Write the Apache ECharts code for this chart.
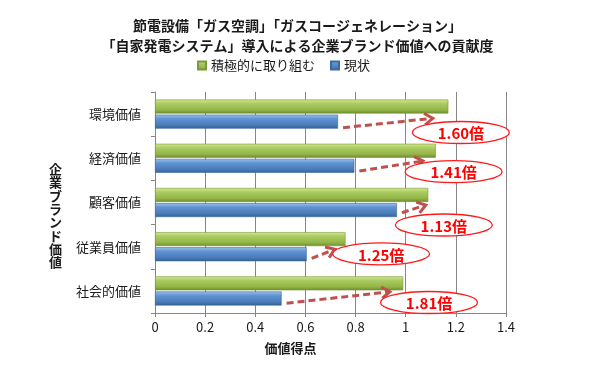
<!DOCTYPE html>
<html><head><meta charset="utf-8">
<script src="https://cdn.jsdelivr.net/npm/echarts@6/dist/echarts.min.js"></script>
<style>html,body{margin:0;padding:0;background:#fff}#c{width:595px;height:370px}</style>
</head><body><div id="c"></div>
<script>
// ---- data ----
const categories = ['環境価値', '経済価値', '顧客価値', '従業員価値', '社会的価値'];
const activeValues = [1.17, 1.12, 1.09, 0.76, 0.99];      // 積極的に取り組む
const currentValues = [0.73, 0.795, 0.965, 0.605, 0.505]; // 現状
const ratioLabels = ['1.60倍', '1.41倍', '1.13倍', '1.25倍', '1.81倍'];
const seriesNames = ['積極的に取り組む', '現状'];
const xMin = 0, xMax = 1.4, xStep = 0.2;

// ---- callout layout (axis-value x positions, pixel y offsets from category centre) ----
const calloutTipX = [1.108, 1.069, 1.080, 0.717, 0.937];
const calloutTipDy = [4.2, 2.7, 2.5, 2.6, 0.8];
const calloutStartDy = [13.6, 12.7, 10.2, 11.6, 12.4];
const calloutEllipseX = [1.220, 1.191, 1.152, 0.902, 1.093];
const calloutEllipseDy = [18.4, 13.4, 22.5, 7.1, 11.6];

const FONT = '"Noto Sans CJK JP", "Noto Sans", sans-serif';
const chart = echarts.init(document.getElementById('c'), null, {renderer: 'canvas'});

function grad(stops) {
  return new echarts.graphic.LinearGradient(0, 0, 0, 1, stops.map((c, i) => ({offset: c[0], color: c[1]})));
}
const greenFill = grad([[0, '#d3ea8c'], [0.3, '#aacb62'], [0.75, '#93b447'], [1, '#6b8a2c']]);
const blueFill = grad([[0, '#9cc2f0'], [0.3, '#5f93d2'], [0.75, '#4a7bb9'], [1, '#34608f']]);

const calloutData = categories.map((c, i) => [i, currentValues[i], activeValues[i]]);

function renderCallout(params, api) {
  const i = params.dataIndex;
  const cat = api.value(0);
  const startBase = api.coord([api.value(1), cat]);
  const tipBase = api.coord([calloutTipX[i], cat]);
  const ell = api.coord([calloutEllipseX[i], cat]);
  const sx = startBase[0] + 5, sy = startBase[1] + calloutStartDy[i];
  const tx = tipBase[0], ty = tipBase[1] + calloutTipDy[i];
  const ang = Math.atan2(ty - sy, tx - sx);
  const hl = 10, ha = 0.6;
  const h1 = [tx - hl * Math.cos(ang - ha), ty - hl * Math.sin(ang - ha)];
  const h2 = [tx - hl * Math.cos(ang + ha), ty - hl * Math.sin(ang + ha)];
  const col = '#c0504d';
  return {
    type: 'group',
    children: [
      {type: 'line', shape: {x1: sx, y1: sy, x2: tx - 2 * Math.cos(ang), y2: ty - 2 * Math.sin(ang)},
       style: {stroke: col, lineWidth: 3, lineDash: [7, 4]}},
      {type: 'polyline', shape: {points: [h1, [tx, ty], h2]},
       style: {stroke: col, lineWidth: 3, fill: null}},
      {type: 'ellipse', shape: {cx: ell[0], cy: ell[1] + calloutEllipseDy[i], rx: 48.5, ry: 11},
       style: {fill: '#ffffff', stroke: '#ff1a1a', lineWidth: 1.3}},
      {type: 'text', x: ell[0], y: ell[1] + calloutEllipseDy[i] + 1,
       style: {text: ratioLabels[i], fill: '#ff0000', font: 'bold 15px ' + FONT,
               align: 'center', verticalAlign: 'middle'}}
    ]
  };
}

const option = {
  animation: false,
  backgroundColor: '#ffffff',
  title: {
    text: '節電設備「ガス空調」「ガスコージェネレーション」\n「自家発電システム」導入による企業ブランド価値への貢献度',
    left: 'center', top: 11,
    textStyle: {fontFamily: FONT, fontSize: 14, fontWeight: 'bold', color: '#1a1a1a', lineHeight: 20}
  },
  legend: {
    data: seriesNames, top: 59, left: 197, padding: 0,
    icon: 'rect', itemWidth: 8, itemHeight: 8, itemGap: 15,
    textStyle: {fontFamily: FONT, fontSize: 13, color: '#1a1a1a'}
  },
  grid: {left: 155, right: 89, top: 92, bottom: 57},
  xAxis: {
    type: 'value', min: xMin, max: xMax, interval: xStep,
    name: '価値得点', nameLocation: 'middle', nameGap: 29,
    nameTextStyle: {fontFamily: FONT, fontSize: 13, fontWeight: 'bold', color: '#1a1a1a', padding: [0, 80, 0, 0]},
    axisLine: {show: true, lineStyle: {color: '#868686'}},
    axisTick: {show: true, length: 4, lineStyle: {color: '#868686'}},
    axisLabel: {fontFamily: FONT, fontSize: 13, color: '#1a1a1a', margin: 8},
    splitLine: {show: true, lineStyle: {color: '#868686', width: 1}}
  },
  yAxis: {
    type: 'category', data: categories, inverse: true,
    name: '\n\n企\n業\nブ\nラ\nン\nド\n価\n値', nameLocation: 'middle', nameGap: 93, nameRotate: 0,
    nameTextStyle: {fontFamily: FONT, fontSize: 13, fontWeight: 'bold', color: '#1a1a1a', lineHeight: 13.3},
    axisLine: {show: true, lineStyle: {color: '#868686'}},
    axisTick: {show: true, length: 4, lineStyle: {color: '#868686'}},
    axisLabel: {fontFamily: FONT, fontSize: 13, color: '#1a1a1a', margin: 14},
    splitLine: {show: false}
  },
  series: [
    {name: seriesNames[0], type: 'bar', data: activeValues, barWidth: 14, barGap: '8%',
     itemStyle: {color: greenFill, borderColor: '#7a9a3a', borderWidth: 0.6}},
    {name: seriesNames[1], type: 'bar', data: currentValues, barWidth: 14, barGap: '8%',
     itemStyle: {color: blueFill, borderColor: '#3d6a9e', borderWidth: 0.6}},
    {type: 'custom', name: 'callout', coordinateSystem: 'cartesian2d', data: calloutData,
     encode: {x: [1, 2], y: 0}, renderItem: renderCallout, clip: false, silent: true, z: 10}
  ]
};
chart.setOption(option);
</script>
</body></html>
